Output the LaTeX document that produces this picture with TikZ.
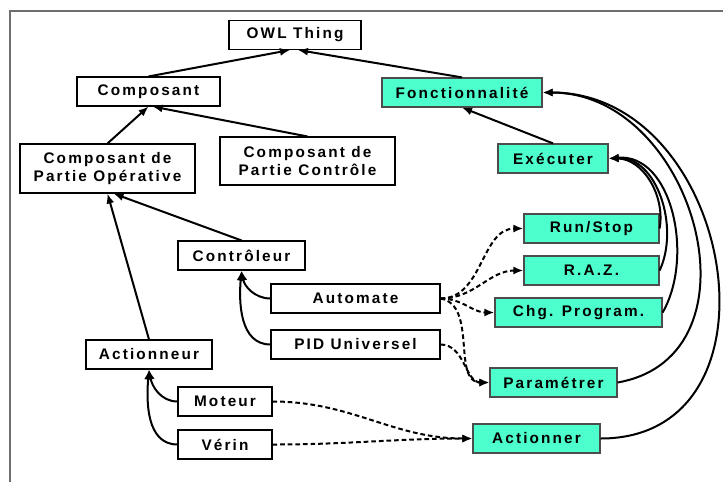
\documentclass[tikz,border=0pt]{standalone}
\usepackage{fontspec}
\usetikzlibrary{arrows.meta}
\newfontfamily\boxfont[LetterSpace=14]{Liberation Sans}
\definecolor{fctgreen}{RGB}{77,255,204}
\definecolor{framegray}{RGB}{110,110,110}

\begin{document}
\begin{tikzpicture}[x=0.75pt,y=-0.75pt,
    every node/.style={draw,inner sep=0pt,minimum height=21.75pt,align=center,
      font=\boxfont\bfseries\fontsize{11.5}{14}\selectfont},
    cls/.style={fill=white,line width=0.8pt},
    fct/.style={fill=fctgreen,draw=black!70,line width=0.9pt},
    isa/.style={line width=1.5pt,-{Latex[length=7.5pt,width=6pt]}},
    dep/.style={isa,dash pattern=on 3.5pt off 2.2pt}]
    \useasboundingbox (0,0) rectangle (723,482);
    \draw[framegray,line width=0.9pt] (10,482) -- (10,11) -- (723,11);

    \node[cls,minimum width=99pt] (owl) at (295,35) {OWL Thing};
    \node[cls,minimum width=107.25pt] (comp) at (148.5,91.5) {Composant};
    \node[cls,minimum width=131.25pt,minimum height=36.75pt] (cpo) at (107.5,168.5) {Composant de\\Partie Opérative};
    \node[cls,minimum width=131.25pt,minimum height=36pt] (cpc) at (307.5,161) {Composant de\\Partie Contrôle};
    \node[cls,minimum width=95.25pt] (ctrl) at (241.5,255.5) {Contrôleur};
    \node[cls,minimum width=126.75pt] (auto) at (355.5,298.5) {Automate};
    \node[cls,minimum width=126.75pt] (pid) at (355.5,344.5) {PID Universel};
    \node[cls,minimum width=94.5pt] (actn) at (149,354.5) {Actionneur};
    \node[cls,minimum width=70.5pt] (mot) at (225,401.5) {Moteur};
    \node[cls,minimum width=70.5pt] (ver) at (225,444.5) {Vérin};

    \node[fct,minimum width=120pt] (fonc) at (462,92.5) {Fonctionnalité};
    \node[fct,minimum width=82.5pt] (exec) at (553,158.5) {Exécuter};
    \node[fct,minimum width=101.25pt] (run) at (591.5,228.5) {Run/Stop};
    \node[fct,minimum width=101.25pt] (raz) at (591.5,270.5) {R.A.Z.};
    \node[fct,minimum width=125.25pt] (chg) at (578.5,312.5) {Chg. Program.};
    \node[fct,minimum width=95.25pt] (param) at (553.5,382.5) {Paramétrer};
    \node[fct,minimum width=95.25pt] (actr) at (536.5,438.5) {Actionner};

    % hierarchy
    \draw[isa] (comp.north) -- ([xshift=-3.75pt]owl.south);
    \draw[isa] (fonc.north) -- ([xshift=2.25pt]owl.south);
    \draw[isa] (cpo.north) -- (comp.south);
    \draw[isa] (cpc.north) -- ([xshift=3pt]comp.south);
    \draw[isa] (ctrl.north) -- ([xshift=4.5pt]cpo.south);
    \draw[isa] (actn.north) -- (cpo.south);
    \draw[isa] (auto.west) to[out=180,in=-80] (ctrl.south);
    \draw[isa] (pid.west) to[out=180,in=-95] (ctrl.south);
    \draw[isa] (mot.west) to[out=180,in=-80] (actn.south);
    \draw[isa] (ver.west) to[out=180,in=-95] (actn.south);
    \draw[isa] (exec.north) -- (fonc.south);
    \draw[isa] (run.east) to[out=80,in=0] (exec.east);
    \draw[isa] (raz.east) to[out=65,in=3] (exec.east);
    \draw[isa] (chg.east) to[out=60,in=5] (exec.east);
    \draw[isa] (param.east) to[out=10,in=0,looseness=1.3] (fonc.east);
    \draw[isa] (actr.east) to[out=0,in=0,looseness=1.4] (fonc.east);

    % dependencies
    \draw[dep] (auto.east) to[out=0,in=180] (run.west);
    \draw[dep] (auto.east) to[out=0,in=180] (raz.west);
    \draw[dep] (auto.east) to[out=0,in=180] (chg.west);
    \draw[dep] (auto.east) to[out=-10,in=180] (param.west);
    \draw[dep] (pid.east) to[out=0,in=180] (param.west);
    \draw[dep] (mot.east) to[out=0,in=180] (actr.west);
    \draw[dep] (ver.east) to[out=0,in=180] (actr.west);
\end{tikzpicture}
\end{document}
